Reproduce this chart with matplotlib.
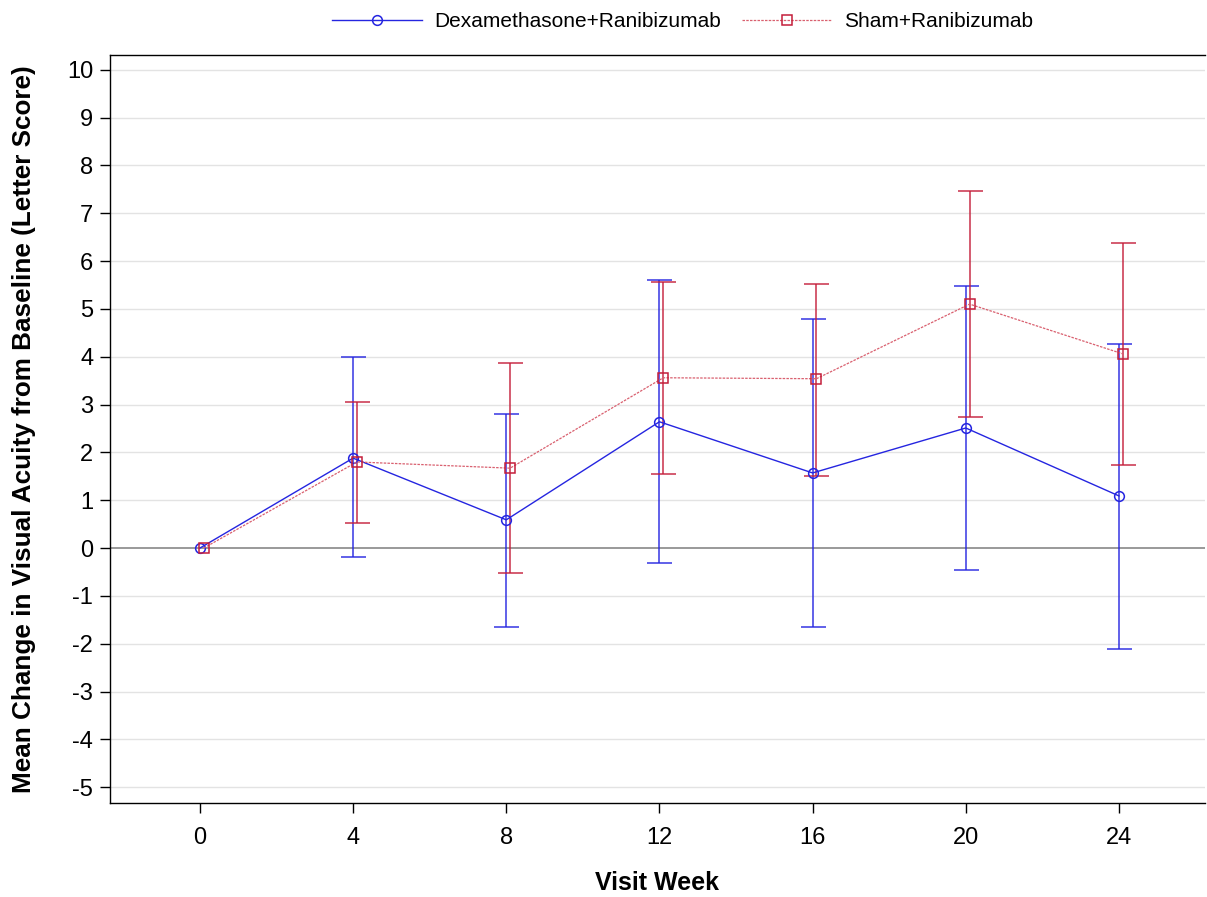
import numpy as np
import matplotlib
matplotlib.use("Agg")
import matplotlib.pyplot as plt

plt.rcParams['font.family'] = ['Liberation Sans', 'DejaVu Sans']
plt.rcParams['axes.unicode_minus'] = False

weeks = [0, 4, 8, 12, 16, 20, 24]

dex_mean = [0.0, 1.88, 0.59, 2.64, 1.57, 2.51, 1.09]
dex_upper = [0.0, 3.99, 2.80, 5.61, 4.79, 5.48, 4.27]
dex_lower = [0.0, -0.19, -1.65, -0.31, -1.65, -0.46, -2.11]

sham_mean = [0.0, 1.80, 1.67, 3.56, 3.54, 5.10, 4.06]
sham_upper = [0.0, 3.05, 3.87, 5.56, 5.52, 7.47, 6.38]
sham_lower = [0.0, 0.52, -0.52, 1.55, 1.51, 2.74, 1.74]

dex_label = "Dexamethasone+Ranibizumab"
sham_label = "Sham+Ranibizumab"

blue = '#2525e0'
red = '#c41e3a'

fig = plt.figure(figsize=(12.07, 8.97), dpi=100)
ax = fig.add_axes([0.0911, 0.1048, 0.907, 0.834])

x = np.array(weeks, dtype=float)
dx = 0.1  # small horizontal offset for second group

# zero reference line and grid
ax.axhline(0, color='#888888', lw=1.2, zorder=1)
for yv in range(-5, 11):
    if yv != 0:
        ax.axhline(yv, color='#e3e3e3', lw=1, zorder=0)

# error bars (skip baseline)
dm, du, dl = np.array(dex_mean), np.array(dex_upper), np.array(dex_lower)
sm, su, sl = np.array(sham_mean), np.array(sham_upper), np.array(sham_lower)
ax.errorbar(x[1:], dm[1:], yerr=[dm[1:] - dl[1:], du[1:] - dm[1:]], fmt='none',
            ecolor=blue, elinewidth=1.2, capsize=9, capthick=1.2, alpha=0.85, zorder=2)
ax.errorbar(x[1:] + dx, sm[1:], yerr=[sm[1:] - sl[1:], su[1:] - sm[1:]], fmt='none',
            ecolor=red, elinewidth=1.2, capsize=9, capthick=1.2, alpha=0.85, zorder=2)

ax.plot(x, dm, color=blue, lw=1, marker='o', ms=7, mfc='none', mec=blue,
        mew=1.1, label=dex_label, zorder=3)
ax.plot(x + dx, sm, color='#d9606f', lw=0.9, ls=(0, (2, 1)), marker='s', ms=7,
        mfc='none', mec=red, mew=1.1, label=sham_label, zorder=3)

ax.set_xlim(-2.35, 26.24)
ax.set_ylim(-5.33, 10.31)
ax.set_xticks(weeks)
ax.set_yticks(range(-5, 11))
ax.tick_params(axis='both', labelsize=17, length=7, width=1, direction='out')
ax.tick_params(axis='x', pad=10)
ax.tick_params(axis='y', pad=5)

ax.spines['right'].set_visible(False)
for s in ['left', 'bottom', 'top']:
    ax.spines[s].set_linewidth(1)

ax.set_xlabel('Visit Week', fontsize=18, fontweight='bold', labelpad=16)
ax.set_ylabel('Mean Change in Visual Acuity from Baseline (Letter Score)',
              fontsize=18.8, fontweight='bold', labelpad=22)

ax.legend(loc='lower center', bbox_to_anchor=(0.523, 1.0), ncol=2, frameon=False,
          fontsize=15, handlelength=4.3, columnspacing=1.0, handletextpad=0.6,
          borderaxespad=0.75)

fig.savefig('out.png', dpi=100)
